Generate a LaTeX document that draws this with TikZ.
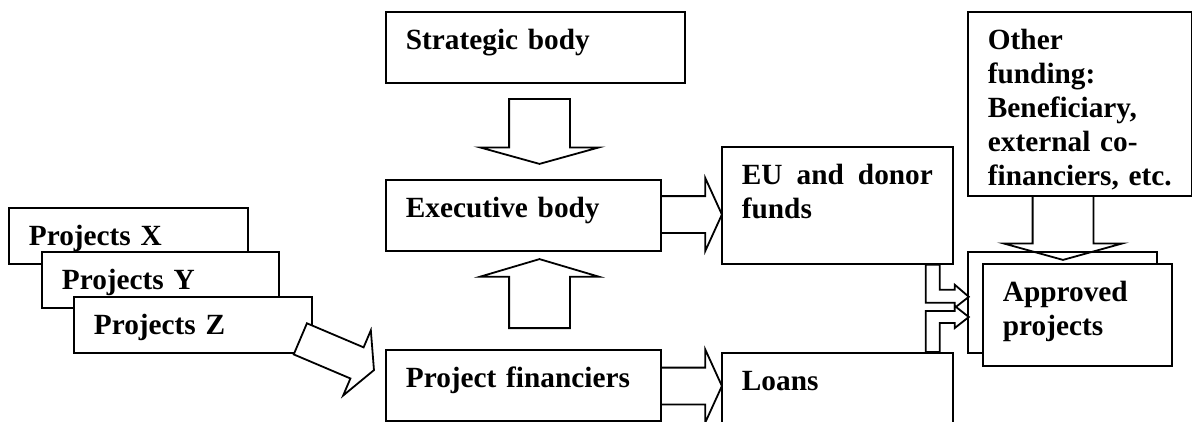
\documentclass[tikz,border=0pt]{standalone}
\usepackage{fontspec}
\setmainfont{Liberation Serif}
\usetikzlibrary{shapes.arrows}

\begin{document}
\begin{tikzpicture}[
    x=1pt, y=-1pt,
    line width=1.8pt,
    orgbox/.style={shape=rectangle, draw=black, fill=white, anchor=north west, align=left,
        inner xsep=20pt, inner ysep=0pt, text height=38pt,
        font=\bfseries\fontsize{29.3}{34}\selectfont},
    blankbox/.style={shape=rectangle, draw=black, fill=white, anchor=north west, inner sep=0pt},
    blockarr/.style={single arrow, draw=black, fill=white, inner xsep=0pt, inner ysep=29.5pt,
        anchor=tail, single arrow head extend=29pt, single arrow tip angle=149},
    sidearr/.style={blockarr, inner ysep=17.5pt, single arrow head extend=18pt,
        single arrow tip angle=131, minimum height=61pt},
    bentarr/.style={draw=black, fill=white},
]
\clip (0,0) rectangle (1192,421);

\node[orgbox, text width=259pt, text depth=33pt] (strat) at (385,11) {Strategic body};
\node[orgbox, text width=235pt, text depth=33pt] (exec) at (385,179) {Executive body};
\node[orgbox, text width=235pt, text depth=33pt] (fin) at (385,349) {Project financiers};
\node[orgbox, text width=191pt, text depth=79pt, align=justify] (eu) at (721,146) {EU and donor funds};
\node[orgbox, text width=191pt, text depth=62pt] (loans) at (721,352) {Loans};
\node[orgbox, text width=184pt, text depth=146pt] (other) at (967,11)
    {Other\\funding:\\Beneficiary,\\external co-\\financiers, etc.};
\node[blankbox, minimum width=189pt, minimum height=101pt] (appback) at (967,251) {};
\node[orgbox, text width=149pt, text depth=64pt] (appr) at (982,263) {Approved\\projects};
\node[orgbox, text width=199pt, text depth=18pt] (projx) at (8,207) {Projects X};
\node[orgbox, text width=197pt, text depth=18pt] (projy) at (41,251) {Projects Y};
\node[orgbox, text width=198pt, text depth=18pt] (projz) at (73,296) {Projects Z};

% block arrows
\node[blockarr, minimum height=65pt, rotate=-90] (strat2exec) at (539.5,98) {};
\node[blockarr, minimum height=69pt, single arrow tip angle=147, rotate=90] (fin2exec) at (539.5,329) {};
\node[sidearr] (exec2eu) at (660,214.5) {};
\node[sidearr] (fin2loans) at (660,386) {};
\node[blockarr, fill=none, minimum height=64pt, rotate=-90] (other2appr) at (1063,195) {};
\node[blockarr, inner ysep=16pt, single arrow head extend=18.5pt, single arrow tip angle=125,
    minimum height=80pt, rotate=-23] (proj2fin) at (299.5,338.5) {};

\draw[bentarr] ([xshift=-28pt]eu.south east) -- ++(0,38) -- ++(29,0) -- ++(0,5) -- ++(14,-11)
    -- ++(-14,-12) -- ++(0,5) -- ++(-15,0) -- ++(0,-25) -- cycle;
\draw[bentarr] ([xshift=-28pt]loans.north east) -- ++(0,-41) -- ++(29,0) -- ++(0,-5) -- ++(14,11)
    -- ++(-14,11) -- ++(0,-5) -- ++(-15,0) -- ++(0,29) -- cycle;
\end{tikzpicture}
\end{document}
